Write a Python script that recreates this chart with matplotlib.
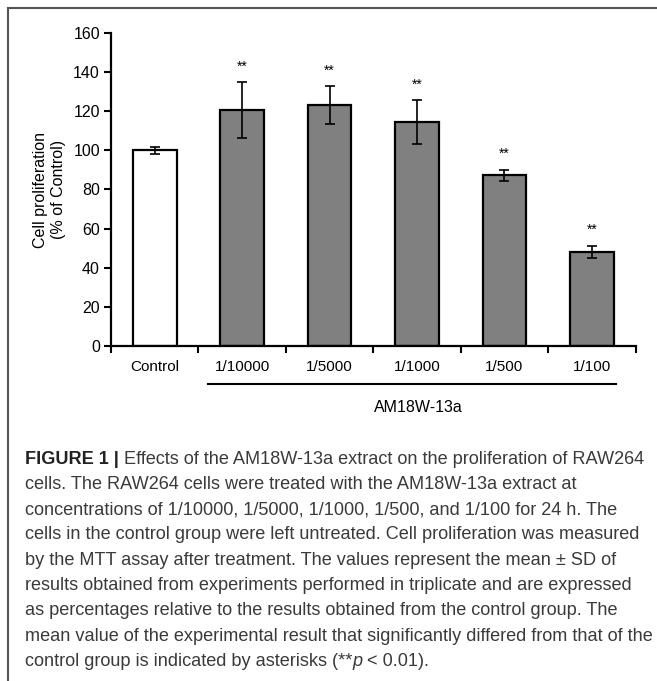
import matplotlib
matplotlib.use("Agg")
import matplotlib.pyplot as plt
from matplotlib.lines import Line2D

categories = ["Control", "1/10000", "1/5000", "1/1000", "1/500", "1/100"]
means = [100.0, 120.5, 123.2, 114.4, 87.2, 48.2]
sds = [1.8, 14.4, 9.7, 11.2, 2.9, 3.0]
sig_labels = ["", "**", "**", "**", "**", "**"]
bar_colors = ["white", "#808080", "#808080", "#808080", "#808080", "#808080"]
y_ticks = [0, 20, 40, 60, 80, 100, 120, 140, 160]
ylabel = "Cell proliferation\n(% of Control)"
group_label = "AM18W-13a"

caption_lines = [
    [("FIGURE 1 | ", "bold"), ("Effects of the AM18W-13a extract on the proliferation of RAW264", "normal")],
    [("cells. The RAW264 cells were treated with the AM18W-13a extract at", "normal")],
    [("concentrations of 1/10000, 1/5000, 1/1000, 1/500, and 1/100 for 24 h. The", "normal")],
    [("cells in the control group were left untreated. Cell proliferation was measured", "normal")],
    [("by the MTT assay after treatment. The values represent the mean \u00b1 SD of", "normal")],
    [("results obtained from experiments performed in triplicate and are expressed", "normal")],
    [("as percentages relative to the results obtained from the control group. The", "normal")],
    [("mean value of the experimental result that significantly differed from that of the", "normal")],
    [("control group is indicated by asterisks (**", "normal"), ("p", "italic"), (" < 0.01).", "normal")],
]

W, H = 657, 681
fig = plt.figure(figsize=(W / 100, H / 100), dpi=100)
plt.rcParams['font.family'] = ['Liberation Sans', 'DejaVu Sans']

# frame
fig.add_artist(Line2D([8 / W, 1.0], [1 - 8 / H, 1 - 8 / H], transform=fig.transFigure, color="#555555", lw=1.5))
fig.add_artist(Line2D([8 / W, 8 / W], [1 - 8 / H, 0.0], transform=fig.transFigure, color="#555555", lw=1.5))

ax = fig.add_axes([111 / W, 1 - 346 / H, (635.5 - 111) / W, (346 - 33) / H])
x = list(range(len(categories)))
ax.bar(x, means, width=0.5, color=bar_colors, edgecolor="black", linewidth=1.6, zorder=2)
ax.errorbar(x, means, yerr=sds, fmt="none", ecolor="black", elinewidth=1.2, capsize=3.5, capthick=1.2, zorder=3)
for xi, m, s, lab in zip(x, means, sds, sig_labels):
    if lab:
        ax.text(xi, m + s + 8, lab, ha="center", va="center", fontsize=10)

ax.set_xlim(-0.5, len(categories) - 0.5)
ax.set_ylim(0, 160)
ax.set_yticks(y_ticks)
ax.set_yticklabels([str(t) for t in y_ticks], fontsize=11.5)
ax.set_xticks(x)
ax.set_xticklabels(categories, fontsize=11)
ax.tick_params(axis="x", which="major", length=0, pad=10)
ax.set_xticks([i - 0.5 for i in range(len(categories) + 1)], minor=True)
ax.tick_params(axis="x", which="minor", length=5, width=1.5, direction="out")
ax.tick_params(axis="y", length=5, width=1.5, direction="out", pad=3)
for side in ["top", "right"]:
    ax.spines[side].set_visible(False)
for side in ["left", "bottom"]:
    ax.spines[side].set_linewidth(1.6)
ax.set_ylabel(ylabel, fontsize=11.5, linespacing=1.25, labelpad=5)

# group line and label
fig.add_artist(Line2D([208 / W, 616 / W], [1 - 384 / H, 1 - 384 / H], transform=fig.transFigure, color="black", lw=1.5))
fig.text(418 / W, 1 - 407 / H, group_label, ha="center", va="center", fontsize=11.5)

# caption
fig.canvas.draw()
renderer = fig.canvas.get_renderer()
y0 = 459
dy = 25.3
x_left = 25.0
max_width = 628.0


def draw_caption(fs, dry=False):
    artists = []
    widths = []
    for i, segs in enumerate(caption_lines):
        xp = x_left
        yp = y0 + i * dy
        for txt, style in segs:
            kw = dict(fontsize=fs, va="center", ha="left", color="#3a3a3a")
            if style == "bold":
                kw["fontweight"] = "bold"
                kw["color"] = "#222222"
            if style == "italic":
                kw["fontstyle"] = "italic"
            t = fig.text(xp / W, 1 - yp / H, txt, **kw)
            bb = t.get_window_extent(renderer)
            xp += bb.width
            artists.append(t)
        widths.append(xp - x_left)
    if dry:
        for a in artists:
            a.remove()
    return max(widths)


trial = 13.0
w = draw_caption(trial, dry=True)
draw_caption(trial * max_width / w)

fig.savefig("out.png", dpi=100)
